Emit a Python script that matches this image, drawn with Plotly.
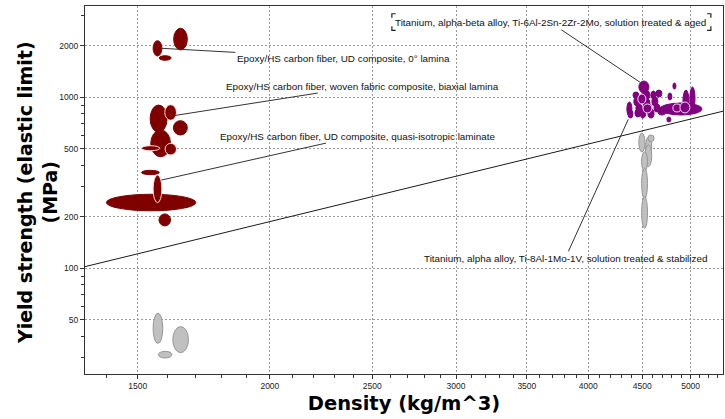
import numpy as np
import plotly.graph_objects as go

# ---------------- data (ranges of each material bubble) ----------------
# Epoxy / carbon fibre composites (dark red)
red_density_lo = [1622, 1551, 1572, 1541, 1621, 1543, 1512, 1401, 1571, 1591, 1592, 1512, 1551]
red_density_hi = [1671, 1581, 1613, 1599, 1671, 1611, 1572, 1702, 1611, 1632, 1632, 1574, 1581]
red_strength_lo = [1891, 1744, 1646, 624, 602, 449, 353, 217, 177, 734, 460, 487, 242]
red_strength_hi = [2533, 2143, 1751, 901, 730, 644, 374, 271, 208, 905, 538, 521, 351]
red_selected = [0, 0, 0, 0, 0, 0, 0, 0, 0, 1, 1, 1, 1]

# Low-strength composites (grey, bottom left)
grey_density_lo = [1551, 1619, 1569]
grey_density_hi = [1584, 1675, 1616]
grey_strength_lo = [36.4, 32.1, 29.9]
grey_strength_hi = [54.6, 45.6, 32.7]

# Titanium alpha-beta alloys (purple)
ti_ab_density_lo = [4467, 4352, 4362, 4410, 4419, 4438, 4477, 4497, 4507, 4536, 4556, 4586, 4596,
                    4617, 4636, 4429, 4677, 4656, 4917, 4992, 4759, 4811, 4748, 4811, 4885, 4457, 4507]
ti_ab_density_hi = [4566, 4400, 4410, 4467, 4487, 4497, 4536, 4576, 4576, 4596, 4617, 4636, 4656,
                    4677, 4697, 4487, 5125, 4738, 4982, 5048, 4800, 4843, 4790, 4896, 4992, 4536, 4596]
ti_ab_strength_lo = [1060, 778, 757, 991, 889, 821, 757, 964, 866, 799, 757, 978, 889,
                     821, 1004, 767, 788, 788, 810, 843, 964, 1118, 717, 821, 810, 914, 810]
ti_ab_strength_hi = [1245, 939, 843, 1074, 1004, 914, 866, 1103, 991, 914, 854, 1088, 1004,
                     914, 1103, 854, 926, 877, 1103, 1149, 1060, 1212, 767, 914, 939, 1045, 914]
ti_ab_selected = [0] * 23 + [1, 1, 1, 1]

# Titanium alpha alloys (grey column)
ti_a_density_lo = [4467, 4534, 4556, 4527, 4494, 4494, 4494]
ti_a_density_hi = [4527, 4594, 4617, 4594, 4552, 4552, 4552]
ti_a_strength_lo = [479, 449, 550, 393, 370, 255, 171]
ti_a_strength_hi = [618, 588, 602, 526, 480, 385, 262]

# Guideline (slope 1.5 on log-log)
guide_density = [1300, 5500]
guide_strength = [98, 861]

x_ticks = [1500, 2000, 2500, 3000, 3500, 4000, 4500, 5000]
y_ticks = [50, 100, 200, 500, 1000, 2000]
x_minor = [v for v in range(1400, 5400, 100) if v not in x_ticks]
y_minor = [30, 40, 60, 70, 80, 90, 300, 400, 600, 700, 800, 900, 3000]

# labels: (density, strength, text, dx, dy)  -- dx/dy = offset of label centre in px
labels = [
    (1579, 1934, "Epoxy/HS carbon fiber, UD composite, 0° lamina", 182, 10),
    (1614, 777, "Epoxy/HS carbon fiber, woven fabric composite, biaxial lamina", 191, -30),
    (1579, 328, "Epoxy/HS carbon fiber, UD composite, quasi-isotropic laminate", 196, -44),
    (4485, 1217, "Titanium, alpha-beta alloy, Ti-6Al-2Sn-2Zr-2Mo, solution treated & aged", -90, -60),
    (4365, 743, "Titanium, alpha alloy, Ti-8Al-1Mo-1V, solution treated & stabilized", -63, 139),
]

RED = "rgb(128,0,0)"
PURPLE = "rgb(128,0,128)"
GREY = "rgb(192,192,192)"
GREY_LINE = "rgb(150,150,150)"

fig = go.Figure()

fig.add_trace(go.Scatter(x=guide_density, y=guide_strength, mode="lines",
                         line=dict(color="#1a1a1a", width=1), hoverinfo="skip", showlegend=False))

shapes = []


def add_bubbles(xlo, xhi, ylo, yhi, fill, line, selected=None, sel_line="rgba(255,225,225,0.95)"):
    order = list(range(len(xlo)))
    if selected is not None:
        order = [i for i in order if not selected[i]] + [i for i in order if selected[i]]
    for i in order:
        sel = selected is not None and selected[i]
        shapes.append(dict(type="circle", xref="x", yref="y",
                           x0=xlo[i], x1=xhi[i], y0=ylo[i], y1=yhi[i],
                           fillcolor=fill,
                           line=dict(color=sel_line if sel else line, width=1)))


add_bubbles(grey_density_lo, grey_density_hi, grey_strength_lo, grey_strength_hi, GREY, GREY_LINE)
add_bubbles(ti_a_density_lo, ti_a_density_hi, ti_a_strength_lo, ti_a_strength_hi, GREY, GREY_LINE)
add_bubbles(red_density_lo, red_density_hi, red_strength_lo, red_strength_hi, RED, RED, red_selected)
add_bubbles(ti_ab_density_lo, ti_ab_density_hi, ti_ab_strength_lo, ti_ab_strength_hi, PURPLE, PURPLE,
            ti_ab_selected, sel_line="rgba(255,225,255,0.95)")

# corner brackets of the boxed label (paper coords)
bx0, bx1, by0, by1 = 0.481, 0.981, 0.934, 0.979
cx, cy = 0.006, 0.011
for (px, py, sx, sy) in [(bx0, by1, 1, -1), (bx1, by1, -1, -1), (bx0, by0, 1, 1), (bx1, by0, -1, 1)]:
    shapes.append(dict(type="path", xref="paper", yref="paper",
                       path=f"M {px + sx * cx} {py} L {px} {py} L {px} {py + sy * cy}",
                       line=dict(color="#222", width=1.2)))

annotations = []
for (xd, yd, txt, dx, dy) in labels:
    annotations.append(dict(x=np.log10(xd), y=np.log10(yd), xref="x", yref="y", text=txt,
                            showarrow=True, arrowhead=0, arrowwidth=1, arrowcolor="#333",
                            ax=dx, ay=dy, xanchor="center", yanchor="middle",
                            font=dict(family="Liberation Sans, Arial, sans-serif", size=9.9, color="#111")))

# y-axis title as rotated annotation
annotations.append(dict(xref="paper", yref="paper", x=-0.0745, y=0.493, xanchor="center", yanchor="middle",
                        textangle=-90, showarrow=False,
                        text="<b>Yield strength (elastic limit)<br>(MPa)</b>",
                        font=dict(family="DejaVu Sans", size=19, color="#000")))

axis_common = dict(
    type="log", showline=True, linecolor="#333", linewidth=1.2, mirror=True,
    ticks="outside", ticklen=4, tickcolor="#333",
    showgrid=True, gridcolor="#9a9a9a", griddash="2px,2px", gridwidth=1,
    zeroline=False,
    tickfont=dict(family="Liberation Sans, Arial, sans-serif", size=8.5, color="#222"),
)

fig.update_layout(
    width=725, height=419,
    margin=dict(l=85, r=2, t=6, b=45),
    paper_bgcolor="white", plot_bgcolor="white",
    showlegend=False,
    shapes=shapes,
    annotations=annotations,
    xaxis=dict(axis_common, range=[3.1262, 3.7296], tickvals=x_ticks,
               ticktext=[str(v) for v in x_ticks],
               minor=dict(tickvals=x_minor, ticks="outside", ticklen=3, tickcolor="#333", showgrid=False),
               title=dict(text="<b>Density (kg/m^3)</b>", standoff=6,
                          font=dict(family="DejaVu Sans", size=19.5, color="#000"))),
    yaxis=dict(axis_common, range=[1.3819, 3.5339], tickvals=y_ticks,
               ticktext=[str(v) for v in y_ticks],
               minor=dict(tickvals=y_minor, ticks="outside", ticklen=3, tickcolor="#333", showgrid=False)),
)

fig.write_html("out.html")
